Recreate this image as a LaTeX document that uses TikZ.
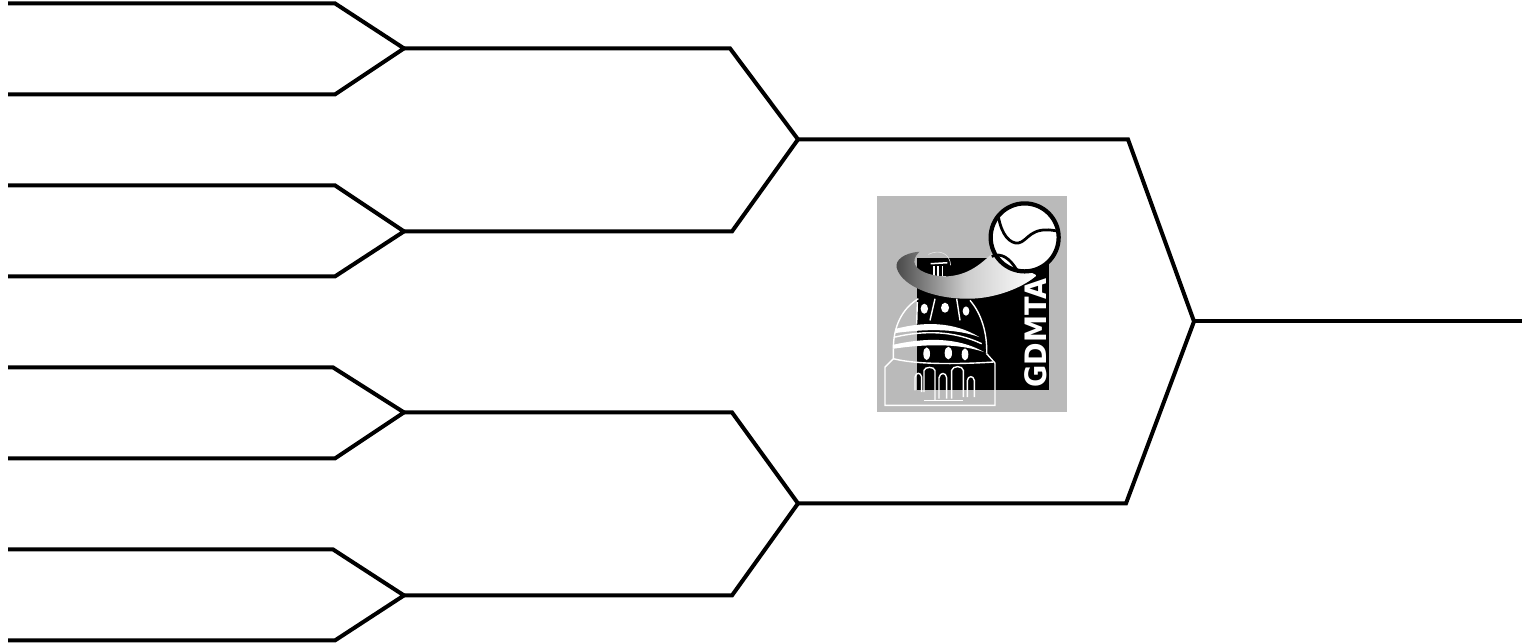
\documentclass[tikz,border=0pt]{standalone}
\usepackage{graphicx}
\usepackage{fontspec}
\newfontfamily\logofont{DejaVu Sans}
\tikzset{
  bracketline/.style={line width=0.08cm,line join=miter,black},
  logoline/.style={line width=0.028cm,white},
  logoband/.style={fill=white,draw=none},
  logowindow/.style={fill=white,draw=none}
}
\begin{document}
\begin{tikzpicture}[x=0.02cm,y=-0.02cm]
\useasboundingbox (0,-0.4) rectangle (1530,641.6);
% first round
\draw[bracketline] (8,3) -- (335,3) -- (404,48) -- (335,94) -- (8,94);
\draw[bracketline] (8,185) -- (335,185) -- (404,231) -- (335,276) -- (8,276);
\draw[bracketline] (8,367) -- (333,367) -- (404,412) -- (335,458) -- (8,458);
\draw[bracketline] (8,549) -- (333,549) -- (404,595) -- (335,640) -- (8,640);
% second round
\draw[bracketline] (404,48) -- (730,48) -- (798,139) -- (732,231) -- (404,231);
\draw[bracketline] (404,412) -- (732,412) -- (798,503) -- (732,595) -- (404,595);
% final
\draw[bracketline] (798,139) -- (1128,139) -- (1194,321) -- (1126,503) -- (798,503);
\draw[bracketline] (1194,321) -- (1522,321);
% logo
\begin{scope}[shift={(860,180)},x=0.00667cm,y=-0.00667cm]
\fill[black!27] (52,48) rectangle (620,695);
\fill[black] (172,232) rectangle (568,630);
% dome
\draw[logoline] (100,505) .. controls (100,440) and (125,385) .. (175,355);
\draw[logoline] (330,360) .. controls (365,400) and (382,460) .. (380,520);
\draw[logoline] (172,365) -- (170,430);
\draw[logoline] (225,355) -- (210,420);
\draw[logoline] (290,355) -- (300,420);
\draw[logoline] (100,505) -- (100,535) -- (75,560) -- (75,675) -- (405,675) -- (405,548) -- (380,520);
\draw[logoline] (100,535) .. controls (180,555) and (320,550) .. (400,545);
\fill[logoband] (105,446) .. controls (190,423) and (280,423) .. (358,470) .. controls (280,442) and (190,447) .. (105,458) -- cycle;
\fill[logoband] (100,493) .. controls (190,473) and (290,468) .. (372,515) .. controls (290,487) and (190,492) .. (100,505) -- cycle;
\draw[logoline] (105,470) .. controls (190,450) and (280,450) .. (365,490);
\fill[logowindow] (193,385) ellipse (11 and 15);
\fill[logowindow] (255,382) ellipse (12 and 15);
\fill[logowindow] (318,392) ellipse (10 and 14);
\fill[logowindow] (200,520) ellipse (10 and 19);
\fill[logowindow] (265,518) ellipse (11 and 19);
\fill[logowindow] (315,522) ellipse (10 and 18);
\draw[logoline] (165,630) -- (165,590) .. controls (168,575) and (182,575) .. (185,590) -- (185,635);
\draw[logoline] (192,635) -- (192,570) .. controls (195,558) and (222,558) .. (225,570) -- (225,660);
\draw[logoline] (237,655) -- (237,592) .. controls (240,575) and (258,575) .. (260,592) -- (260,655);
\draw[logoline] (275,655) -- (275,570) .. controls (278,555) and (308,555) .. (310,570) -- (310,650);
\draw[logoline] (322,650) -- (322,600) .. controls (325,585) and (340,585) .. (343,600) -- (343,650);
\draw[logoline] (192,660) -- (310,660);
% temple on top
\draw[line width=0.03cm,white] (212,250) -- (262,247);
\draw[logoline] (222,288) -- (222,258);
\draw[logoline] (234,288) -- (234,258);
\draw[logoline] (248,288) -- (248,258);
\draw[logoline] (212,290) -- (258,290);
\draw[black!10,line width=0.012cm] (205,222) .. controls (240,205) and (270,220) .. (272,255);
% swoosh
\shade[left color=black!72,right color=white,middle color=black!20] (178,214) .. controls (130,218) and (105,240) .. (110,262) .. controls (125,320) and (235,362) .. (350,354) .. controls (420,348) and (490,320) .. (530,285) -- (400,215) .. controls (360,255) and (320,285) .. (260,288) .. controls (210,288) and (165,270) .. (163,245) .. controls (163,230) and (170,222) .. (178,214) -- cycle;
% ball
\draw[fill=white,line width=0.085cm] (494,171) circle (102);
\draw[line width=0.055cm] (415,108) .. controls (425,165) and (450,190) .. (475,188) .. controls (505,182) and (510,135) .. (592,152);
\draw[line width=0.055cm] (395,228) .. controls (425,215) and (450,235) .. (470,268);
\node[rotate=90,white,inner sep=0pt] (logotext) at (527,457) {\logofont\fontsize{16.8}{17}\selectfont\bfseries\scalebox{0.92}[1]{GDMTA}};
\end{scope}
\end{tikzpicture}
\end{document}
